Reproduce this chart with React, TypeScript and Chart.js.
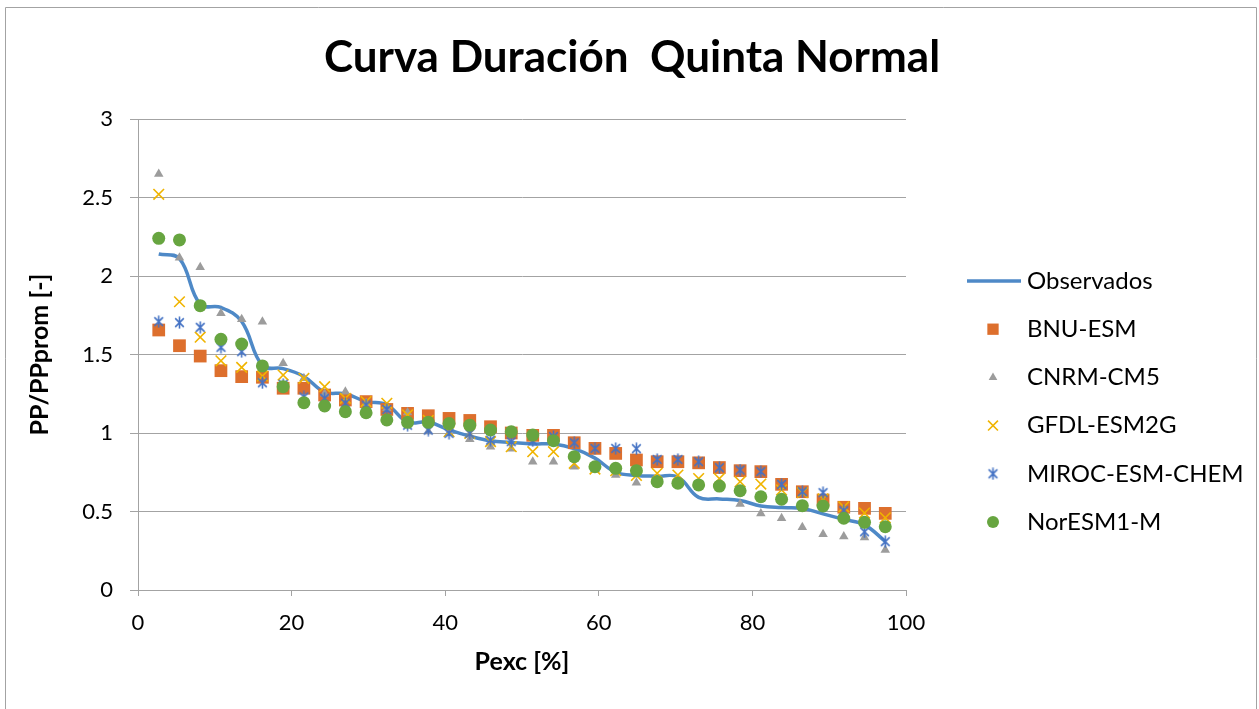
import React, { useEffect, useRef } from 'react';
import { Chart, registerables } from 'chart.js';
import { drawPoint } from 'chart.js/helpers';

Chart.register(...registerables);

const TITLE = 'Curva Duración  Quinta Normal';
const X_TITLE = 'Pexc [%]';
const Y_TITLE = 'PP/PPprom [-]';

const pexc = [2.7, 5.4, 8.1, 10.8, 13.5, 16.2, 18.9, 21.6, 24.3, 27.0, 29.7, 32.4, 35.1, 37.8, 40.5, 43.2, 45.9, 48.6,
  51.4, 54.1, 56.8, 59.5, 62.2, 64.9, 67.6, 70.3, 73.0, 75.7, 78.4, 81.1, 83.8, 86.5, 89.2, 91.9, 94.6, 97.3];

const observados = [2.14, 2.11, 1.82, 1.80, 1.71, 1.43, 1.41, 1.36, 1.26, 1.25, 1.20, 1.18, 1.07, 1.07, 1.02, 0.98, 0.95, 0.94,
  0.93, 0.93, 0.90, 0.84, 0.75, 0.73, 0.725, 0.72, 0.59, 0.58, 0.57, 0.535, 0.525, 0.52, 0.485, 0.45, 0.415, 0.31];

const bnuEsm = [1.656, 1.556, 1.49, 1.397, 1.359, 1.355, 1.285, 1.285, 1.242, 1.21, 1.2, 1.15, 1.125, 1.11, 1.093, 1.08, 1.04, 1.0,
  0.985, 0.985, 0.938, 0.902, 0.87, 0.828, 0.817, 0.817, 0.81, 0.78, 0.76, 0.754, 0.673, 0.626, 0.573, 0.527, 0.52, 0.488];

const cnrmCm5 = [2.65, 2.117, 2.055, 1.762, 1.724, 1.709, 1.444, 1.348, 1.25, 1.263, 1.19, 1.157, 1.13, 1.01, 1.0, 0.96, 0.913, 0.9,
  0.817, 0.817, 0.785, 0.77, 0.732, 0.683, 0.69, 0.68, 0.66, 0.65, 0.548, 0.488, 0.457, 0.40, 0.355, 0.34, 0.335, 0.255];

const gfdlEsm2g = [2.52, 1.836, 1.61, 1.46, 1.418, 1.363, 1.369, 1.348, 1.295, 1.221, 1.2, 1.189, 1.115, 1.08, 1.008, 0.998, 0.945, 0.913,
  0.881, 0.881, 0.807, 0.77, 0.76, 0.73, 0.743, 0.732, 0.71, 0.71, 0.69, 0.675, 0.637, 0.62, 0.58, 0.53, 0.49, 0.46];

const mirocEsmChem = [1.709, 1.703, 1.673, 1.546, 1.518, 1.32, 1.31, 1.23, 1.221, 1.19, 1.178, 1.15, 1.05, 1.019, 0.998, 0.998, 0.955, 0.945,
  0.95, 0.977, 0.938, 0.902, 0.902, 0.9, 0.832, 0.832, 0.817, 0.779, 0.764, 0.754, 0.673, 0.626, 0.62, 0.505, 0.371, 0.308];

const norEsm1M = [2.24, 2.23, 1.811, 1.597, 1.567, 1.427, 1.295, 1.193, 1.172, 1.136, 1.129, 1.083, 1.068, 1.068, 1.06, 1.05, 1.019, 1.008,
  0.987, 0.951, 0.849, 0.785, 0.775, 0.76, 0.69, 0.68, 0.669, 0.662, 0.632, 0.594, 0.578, 0.537, 0.535, 0.457, 0.431, 0.403];

const FONT = 'Lato, "Open Sans", sans-serif';
const GRID = '#A3A3A3';

function toPoints(values: number[]) {
  return pexc.map((x, i) => ({ x, y: values[i] }));
}

function makeAsterisk(color: string, size: number) {
  const c = document.createElement('canvas');
  c.width = size;
  c.height = size;
  const g = c.getContext('2d')!;
  g.strokeStyle = color;
  g.lineWidth = 1.6;
  const m = size / 2;
  const r = size / 2 - 0.5;
  g.beginPath();
  g.moveTo(m, m - r);
  g.lineTo(m, m + r);
  const d = r * 0.72;
  g.moveTo(m - d, m - d);
  g.lineTo(m + d, m + d);
  g.moveTo(m + d, m - d);
  g.lineTo(m - d, m + d);
  g.stroke();
  return c;
}

const decorPlugin = {
  id: 'decor',
  beforeDraw(chart: any) {
    const ctx = chart.ctx;
    ctx.save();
    ctx.fillStyle = '#ffffff';
    ctx.fillRect(0, 0, chart.width, chart.height);
    ctx.strokeStyle = GRID;
    ctx.lineWidth = 1;
    ctx.beginPath();
    ctx.moveTo(5.5, chart.height + 2);
    ctx.lineTo(5.5, 7.5);
    ctx.lineTo(1256.5, 7.5);
    ctx.lineTo(1256.5, chart.height + 2);
    ctx.stroke();
    ctx.fillStyle = '#000';
    ctx.font = `bold 44px ${FONT}`;
    ctx.textAlign = 'center';
    ctx.textBaseline = 'middle';
    ctx.fillText(TITLE, 632, 58);
    ctx.restore();
  },
  afterDraw(chart: any) {
    const ctx = chart.ctx;
    ctx.save();
    chart.data.datasets.forEach((ds: any, i: number) => {
      const y = 281 + i * 48.2;
      if (ds.showLine) {
        ctx.strokeStyle = ds.borderColor;
        ctx.lineWidth = ds.borderWidth;
        ctx.beginPath();
        ctx.moveTo(967, y);
        ctx.lineTo(1021, y);
        ctx.stroke();
      } else {
        ctx.fillStyle = ds.backgroundColor;
        ctx.strokeStyle = ds.borderColor;
        ctx.lineWidth = ds.borderWidth;
        drawPoint(ctx, { pointStyle: ds.pointStyle, radius: ds.legendRadius, borderWidth: ds.borderWidth, rotation: 0 } as any, 993, y);
      }
      ctx.fillStyle = '#000';
      ctx.font = `24px ${FONT}`;
      ctx.textAlign = 'left';
      ctx.textBaseline = 'middle';
      ctx.fillText(ds.label, 1027, y);
    });
    ctx.restore();
  },
};

export default function App() {
  const ref = useRef<HTMLCanvasElement>(null);
  useEffect(() => {
    const asterisk = makeAsterisk('#4472C4', 13);
    const chart = new Chart(ref.current!, {
      type: 'scatter',
      data: {
        datasets: [
          {
            label: 'Observados', data: toPoints(observados), showLine: true, tension: 0.4,
            borderColor: '#4E89C7', backgroundColor: '#4E89C7', borderWidth: 3.5, pointRadius: 0, order: 6,
          } as any,
          {
            label: 'BNU-ESM', data: toPoints(bnuEsm), pointStyle: 'rect', pointRadius: 9, legendRadius: 8,
            backgroundColor: '#DD6F2D', borderColor: '#DD6F2D', borderWidth: 0, order: 5,
          },
          {
            label: 'CNRM-CM5', data: toPoints(cnrmCm5), pointStyle: 'triangle', pointRadius: 5.5, legendRadius: 5,
            backgroundColor: '#9C9C9C', borderColor: '#9C9C9C', borderWidth: 0, order: 4,
          },
          {
            label: 'GFDL-ESM2G', data: toPoints(gfdlEsm2g), pointStyle: 'crossRot', pointRadius: 7.5, legendRadius: 7,
            backgroundColor: '#F0B400', borderColor: '#F0B400', borderWidth: 1.6, order: 3,
          },
          {
            label: 'MIROC-ESM-CHEM', data: toPoints(mirocEsmChem), pointStyle: asterisk, pointRadius: 6, legendRadius: 6,
            backgroundColor: '#4472C4', borderColor: '#4472C4', borderWidth: 1.6, order: 2,
          },
          {
            label: 'NorESM1-M', data: toPoints(norEsm1M), pointStyle: 'circle', pointRadius: 6.5, legendRadius: 6,
            backgroundColor: '#67A540', borderColor: '#67A540', borderWidth: 0, order: 1,
          },
        ] as any,
      },
      options: {
        responsive: false,
        animation: false,
        devicePixelRatio: 1,
        layout: { padding: { left: 0, top: 119, right: 353, bottom: 0 } },
        plugins: { legend: { display: false }, title: { display: false }, tooltip: { enabled: false } },
        elements: { point: { hoverRadius: 0 } },
        scales: {
          x: {
            type: 'linear', min: 0, max: 100,
            afterFit: (s: any) => { s.height = 119; },
            ticks: { stepSize: 20, color: '#000', font: { family: FONT, size: 22 }, padding: 14 },
            grid: { drawOnChartArea: false, drawTicks: true, tickLength: 6, color: GRID },
            border: { color: GRID },
            title: { display: true, text: X_TITLE, color: '#000', font: { family: FONT, size: 25, weight: 'bold' }, padding: { top: 0, bottom: 32 } },
          },
          y: {
            type: 'linear', min: 0, max: 3,
            afterFit: (s: any) => { s.width = 138; },
            ticks: { stepSize: 0.5, color: '#000', font: { family: FONT, size: 22 }, padding: 17, callback: (v: any) => String(v) },
            grid: { color: GRID, tickLength: 8 },
            border: { color: GRID },
            title: { display: true, text: Y_TITLE, color: '#000', font: { family: FONT, size: 25, weight: 'bold' }, padding: { top: 25, bottom: 0 } },
          },
        },
      } as any,
      plugins: [decorPlugin],
    });
    return () => chart.destroy();
  }, []);
  return (
    <div style={{ position: 'absolute', left: 0, top: 0, width: 1259, height: 709, background: '#fff' }}>
      <canvas ref={ref} width={1259} height={709} />
    </div>
  );
}
